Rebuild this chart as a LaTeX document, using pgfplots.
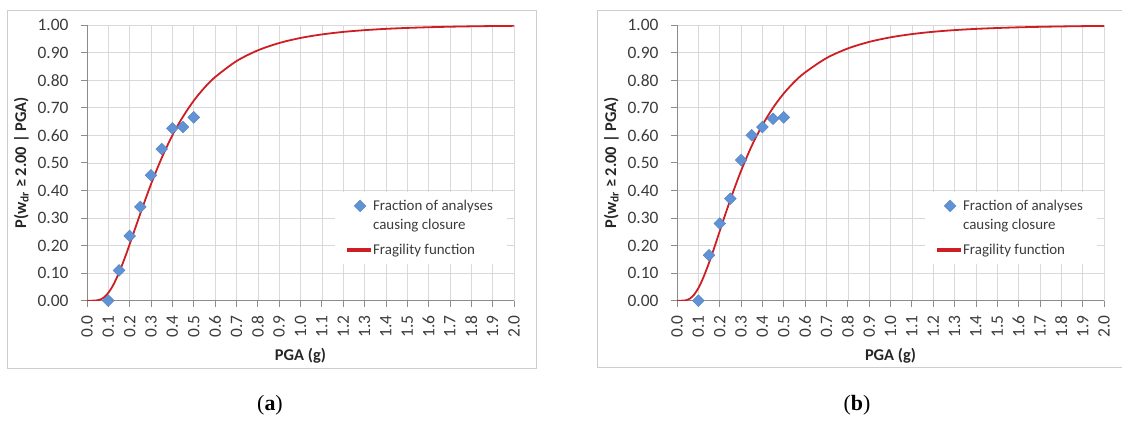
\documentclass[border=0pt]{standalone}
\usepackage{fontspec}
\setmainfont{Carlito}
\newfontfamily\capfont{Liberation Serif}
\usepackage{pgfplots}
\pgfplotsset{compat=1.18}
\definecolor{gridc}{RGB}{217,217,217}
\definecolor{axc}{RGB}{140,140,140}
\definecolor{frc}{RGB}{205,205,205}
\definecolor{ptc}{RGB}{96,146,214}
\definecolor{lnc}{RGB}{205,30,35}
\definecolor{tlc}{RGB}{60,60,60}

\pgfplotstableread{
x y
0.10 0.000
0.15 0.110
0.20 0.235
0.25 0.340
0.30 0.455
0.35 0.550
0.40 0.625
0.45 0.630
0.50 0.665
}\ptsA
\pgfplotstableread{
x y
0.10 0.000
0.15 0.165
0.20 0.280
0.25 0.370
0.30 0.510
0.35 0.600
0.40 0.630
0.45 0.660
0.50 0.665
}\ptsB
\pgfplotstableread{
x y
0.00 0.0000
0.02 0.0000
0.04 0.0005
0.06 0.0036
0.08 0.0123
0.10 0.0287
0.12 0.0528
0.14 0.0841
0.16 0.1210
0.18 0.1616
0.20 0.2050
0.25 0.3165
0.30 0.4230
0.35 0.5180
0.40 0.6000
0.45 0.6680
0.50 0.7254
0.55 0.7725
0.60 0.8110
0.70 0.8690
0.80 0.9080
0.90 0.9346
1.00 0.9530
1.10 0.9658
1.20 0.9749
1.30 0.9813
1.40 0.9860
1.50 0.9894
1.60 0.9919
1.70 0.9938
1.80 0.9952
1.90 0.9962
2.00 0.9970
}\fragA
\pgfplotstableread{
x y
0.00 0.0000
0.02 0.0000
0.04 0.0012
0.06 0.0074
0.08 0.0219
0.10 0.0457
0.12 0.0780
0.14 0.1166
0.16 0.1594
0.18 0.2052
0.20 0.2520
0.25 0.3670
0.30 0.4710
0.35 0.5616
0.40 0.6370
0.45 0.7000
0.50 0.7516
0.55 0.7940
0.60 0.8280
0.70 0.8800
0.80 0.9148
0.90 0.9387
1.00 0.9553
1.10 0.9670
1.20 0.9754
1.30 0.9815
1.40 0.9859
1.50 0.9891
1.60 0.9916
1.70 0.9934
1.80 0.9948
1.90 0.9959
2.00 0.9967
}\fragB

\pgfplotsset{
  fragaxis/.style={
    scale only axis, width=427bp, height=275.7bp,
    xmin=0, xmax=2, ymin=0, ymax=1,
    xtick={0,0.1,0.2,0.3,0.4,0.5,0.6,0.7,0.8,0.9,1.0,1.1,1.2,1.3,1.4,1.5,1.6,1.7,1.8,1.9,2.0},
    ytick={0,0.1,0.2,0.3,0.4,0.5,0.6,0.7,0.8,0.9,1.0},
    axis lines*=left,
    axis line style={axc, line width=0.8bp, -},
    grid=major,
    major grid style={gridc, line width=0.6bp},
    tick style={axc, line width=0.8bp},
    tick align=outside, major tick length=6bp,
    xticklabel shift=5bp, yticklabel shift=9bp,
    /pgf/number format/assume math mode=true,
    tick label style={font=\fontsize{17.5}{17.5}\selectfont, text=tlc},
    x tick label style={rotate=90, anchor=east, /pgf/number format/.cd, fixed, fixed zerofill, precision=1},
    y tick label style={/pgf/number format/.cd, fixed, fixed zerofill, precision=2},
    xlabel={PGA (g)},
    ylabel={P(w\textsubscript{dr} ≥ 2.00 | PGA)},
    label style={font=\fontsize{16.5}{16.5}\selectfont\bfseries, text=black!85},
    xlabel style={yshift=-4bp},
    ylabel style={yshift=2bp},
    legend cell align=left,
    legend style={at={(0.581,0.395)}, anchor=north west, draw=none, fill=white,
      font=\fontsize{15}{19}\selectfont, text=tlc, inner xsep=12bp, inner ysep=6bp,
      row sep=9bp, column sep=0bp,
      nodes={align=left, inner xsep=2bp}},
  },
  ptstyle/.style={only marks, mark=square*, mark size=4.2bp,
    mark options={rotate=45, fill=ptc, draw=ptc!85!black, line width=0.3bp},
    legend image code/.code={\draw[##1] plot coordinates {(12bp,9.5bp)}; \path (0bp,0bp) (22bp,0bp);}},
  lnstyle/.style={lnc, line width=1.8bp, smooth, no marks,
    legend image code/.code={\fill[lnc] (0bp,-0.9bp) rectangle (22bp,0.9bp);}},
}

\begin{document}
\begin{tikzpicture}
\useasboundingbox (0,0) rectangle (1122bp,-421bp);
\draw[frc, line width=1bp] (7.5bp,-10bp) rectangle (536bp,-368bp);
\draw[frc, line width=1bp] (1130bp,-10bp) -- (597bp,-10bp) -- (597bp,-367bp) -- (1130bp,-367bp);

\begin{axis}[fragaxis, at={(87bp,-300.7bp)}, anchor=south west]
\addplot[ptstyle] table[x=x,y=y] {\ptsA};
\addlegendentry{Fraction of analyses\\causing closure}
\addplot[lnstyle] table[x=x,y=y] {\fragA};
\addlegendentry{Fragility function}
\end{axis}

\begin{axis}[fragaxis, at={(677bp,-300.7bp)}, anchor=south west]
\addplot[ptstyle] table[x=x,y=y] {\ptsB};
\addlegendentry{Fraction of analyses\\causing closure}
\addplot[lnstyle] table[x=x,y=y] {\fragB};
\addlegendentry{Fragility function}
\end{axis}

\node[font=\capfont\fontsize{22}{22}\selectfont] at (270bp,-405bp) {(\textbf{a})};
\node[font=\capfont\fontsize{22}{22}\selectfont] at (857bp,-405bp) {(\textbf{b})};
\end{tikzpicture}
\end{document}
